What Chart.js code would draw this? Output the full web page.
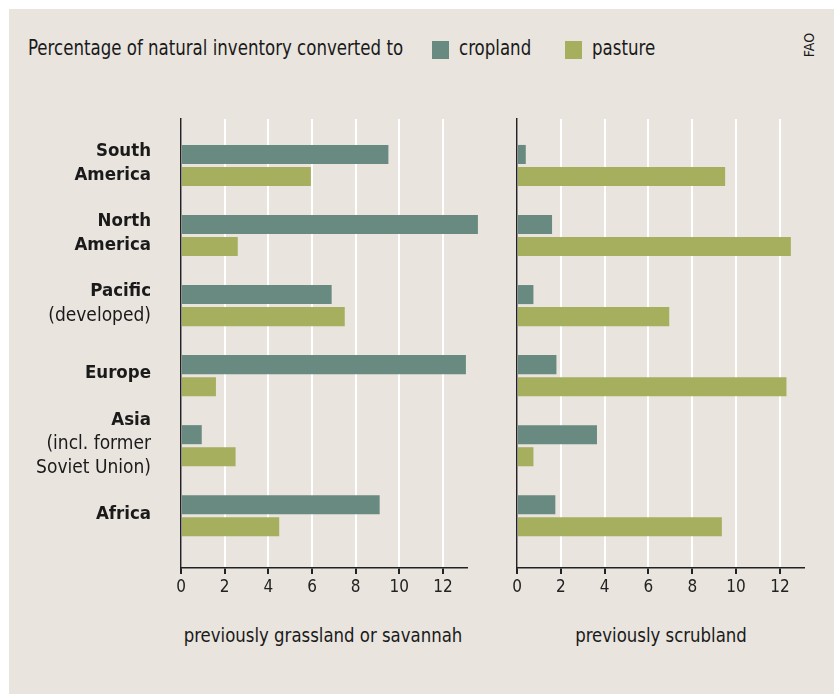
<!DOCTYPE html>
<html>
<head>
<meta charset="utf-8">
<script src="https://cdn.jsdelivr.net/npm/chart.js@4.4.0/dist/chart.umd.min.js"></script>
<style>
  body { margin: 0; background: #fff; width: 838px; height: 697px; overflow: hidden; position: relative; }
  #panel { position: absolute; left: 9px; top: 9px; width: 825px; height: 685px; background: #e9e4de; }
  .layer { position: absolute; left: 0; top: 0; }
  .txt { position: absolute; font-family: "Liberation Sans Narrow", "DejaVu Sans Condensed", "Roboto Condensed", sans-serif; color: #1a1a1a; white-space: nowrap; }
  .head { font-size: 21px; transform: scaleX(0.88); transform-origin: left center; }
  .foot { font-size: 20px; width: 400px; text-align: center; top: 623px; transform: scaleX(0.92); }
  .sw { position: absolute; width: 17px; height: 18px; }
</style>
</head>
<body>
<div id="panel"></div>
<div class="txt head" style="left:28px; top:36px;">Percentage of natural inventory converted to</div>
<div class="sw" style="left:432px; top:41px; background:#688a80;"></div>
<div class="txt head" style="left:459px; top:36px;">cropland</div>
<div class="sw" style="left:565px; top:41px; background:#a6af5e;"></div>
<div class="txt head" style="left:592px; top:36px;">pasture</div>
<div class="txt" style="left:797px; top:37px; font-size:14px; transform: rotate(-90deg); transform-origin: center;">FAO</div>
<div class="txt foot" style="left:123px;">previously grassland or savannah</div>
<div class="txt foot" style="left:461px;">previously scrubland</div>
<canvas id="grass" class="layer" width="838" height="697"></canvas>
<canvas id="scrub" class="layer" width="838" height="697"></canvas>
<script>
const FONT = '"Liberation Sans Narrow", "DejaVu Sans Condensed", "Roboto Condensed", sans-serif';

// regions, top to bottom
const regionBold = [["South", "America"], ["North", "America"], ["Pacific"], ["Europe"], ["Asia"], ["Africa"]];
const regionNote = [[], [], ["(developed)"], [], ["(incl. former", "Soviet Union)"], []];

// percent of natural inventory converted
const grassCropland = [9.5, 13.6, 6.9, 13.05, 0.95, 9.1];
const grassPasture  = [5.95, 2.6, 7.5, 1.6, 2.5, 4.5];
const scrubCropland = [0.4, 1.6, 0.75, 1.8, 3.65, 1.75];
const scrubPasture  = [9.5, 12.5, 6.95, 12.3, 0.75, 9.35];

const xTicks = [0, 2, 4, 6, 8, 10, 12];

const cropColor = "#688a80";
const pastureColor = "#a6af5e";

function points(values) {
    return values.map((v, i) => ({ x: v, y: i }));
}

const regionLabels = {
    id: "regionLabels",
    afterDraw(chart) {
        const ctx = chart.ctx;
        const y = chart.scales.y;
        ctx.save();
        ctx.fillStyle = "#1a1a1a";
        ctx.textAlign = "right";
        ctx.textBaseline = "middle";
        for (let i = 0; i < regionBold.length; i++) {
            const lines = regionBold[i].map(t => ({ t: t, b: true }))
                .concat(regionNote[i].map(t => ({ t: t, b: false })));
            const lh = 24;
            let top = y.getPixelForValue(i) - (lines.length - 1) * lh / 2 - 2;
            lines.forEach((l, k) => {
                ctx.font = l.b ? "bold 18.5px " + FONT : "19px " + FONT;
                ctx.fillText(l.t, 151, top + k * lh);
            });
        }
        ctx.restore();
    }
};

function makeChart(id, crop, pasture, pad, plugins) {
    return new Chart(document.getElementById(id), {
        type: "bar",
        data: {
            datasets: [
                { label: "cropland", data: points(crop), backgroundColor: cropColor, clip: false },
                { label: "pasture", data: points(pasture), backgroundColor: pastureColor, clip: false }
            ]
        },
        options: {
            indexAxis: "y",
            responsive: false,
            animation: false,
            layout: { padding: pad },
            categoryPercentage: 0.63,
            barPercentage: 0.864,
            plugins: { legend: { display: false }, tooltip: { enabled: false } },
            scales: {
                x: {
                    type: "linear",
                    min: 0,
                    max: 13.1,
                    afterBuildTicks: s => { s.ticks = xTicks.map(v => ({ value: v })); },
                    afterFit: s => { s.height = 30; },
                    grid: { color: "#ffffff", lineWidth: 2, tickColor: "#222", tickLength: 6, drawTicks: true },
                    border: { color: "#222", width: 1.5 },
                    ticks: { color: "#222", font: { family: FONT, size: 17 }, padding: 3 }
                },
                y: {
                    type: "linear",
                    reverse: true,
                    offset: false,
                    min: -0.664,
                    max: 5.746,
                    afterBuildTicks: s => { s.ticks = regionBold.map((r, i) => ({ value: i })); },
                    afterFit: s => { s.width = 0; },
                    grid: { display: false, offset: false },
                    border: { color: "#222", width: 1.5 },
                    ticks: { display: false }
                }
            }
        },
        plugins: plugins
    });
}

makeChart("grass", grassCropland, grassPasture, { left: 181, top: 119, right: 371, bottom: 99 }, [regionLabels]);
makeChart("scrub", scrubCropland, scrubPasture, { left: 517, top: 119, right: 34, bottom: 99 }, []);
</script>
</body>
</html>
